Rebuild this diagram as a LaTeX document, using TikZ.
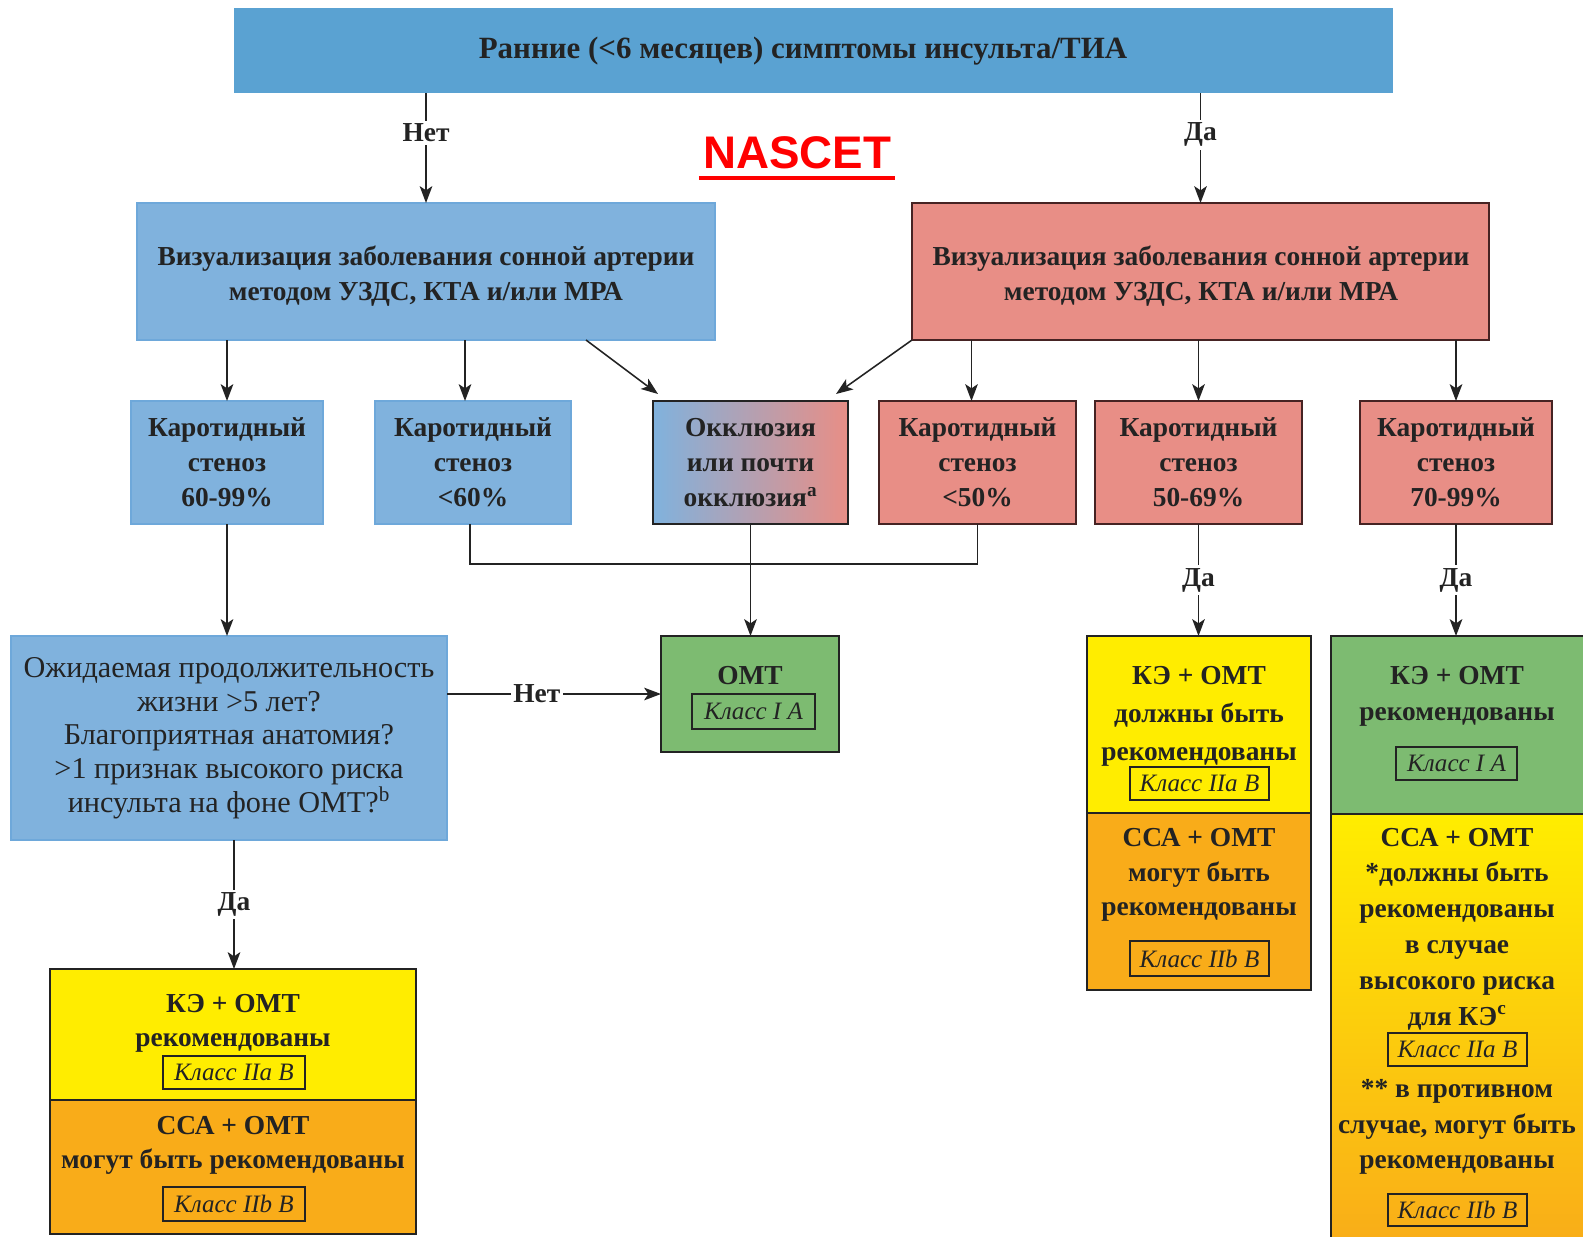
\documentclass[tikz,border=0pt]{standalone}
\usepackage{fontspec}
\setmainfont{Liberation Serif}
\newfontfamily\nsans{Liberation Sans}
\usetikzlibrary{arrows.meta,calc}
\definecolor{topblue}{RGB}{90,162,210}
\definecolor{lblue}{RGB}{128,178,221}
\definecolor{lblueb}{RGB}{110,168,218}
\definecolor{pinkc}{RGB}{232,142,134}
\definecolor{pinkb}{RGB}{70,35,35}
\definecolor{greenc}{RGB}{125,187,113}
\definecolor{yel}{RGB}{255,237,0}
\definecolor{ora}{RGB}{249,172,25}
\definecolor{ink}{RGB}{35,35,35}
\definecolor{nred}{RGB}{255,0,0}
\newcommand\fsz[2]{\fontsize{#1}{#2}\selectfont}
% \rbox{style}{name}{x1}{y1}{x2}{y2}{text}
\newcommand\rbox[7]{%
  \pgfmathsetmacro\rcx{(#3+#5)/2}%
  \pgfmathsetmacro\rcy{(#4+#6)/2}%
  \pgfmathsetmacro\rw{(#5-#3)*0.025}%
  \pgfmathsetmacro\rh{(#6-#4)*0.025}%
  \node[#1,minimum width=\rw cm,minimum height=\rh cm] (#2) at (\rcx,\rcy) {#7};}
\begin{document}
\begin{tikzpicture}[x=0.025cm,y=-0.025cm,
  bx/.style={rectangle,inner sep=0pt,outer sep=0pt,line width=0.9pt,text=ink,align=center},
  lbx/.style={bx,fill=lblue,draw=lblueb},
  pbx/.style={bx,fill=pinkc,draw=pinkb},
  gbx/.style={bx,fill=greenc,draw=ink},
  ybx/.style={bx,fill=yel,draw=ink},
  obx/.style={bx,fill=ora,draw=ink},
  bt/.style={font=\fsz{19.5}{25}\bfseries},
  txt/.style={inner sep=0pt,text=ink,align=center,font=\fsz{19.5}{#1}\bfseries},
  cls/.style={rectangle,draw=ink,line width=0.9pt,inner sep=0pt,text=ink,font=\fsz{17.8}{20}\itshape},
  lbl/.style={fill=white,inner sep=2pt,text=ink,font=\fsz{19.5}{22}\bfseries},
  arr/.style={draw=ink,line width=1.1pt,-{Stealth[length=12pt,width=9pt,inset=3pt]}},
  ln/.style={draw=ink,line width=1.1pt}
]
\clip (0,0) rectangle (1583,1236);
\fill[white] (0,0) rectangle (1583,1236);

% top
\rbox{bx,fill=topblue}{top}{234}{8}{1393}{93}{}
\node[txt=26,font=\fsz{22}{26}\bfseries] (toptxt) at (803,51) {Ранние (<6 месяцев) симптомы инсульта/ТИА};

% NASCET
\node[inner sep=0pt,text=nred,font=\fsz{32.5}{36}\nsans\bfseries] (nascet) at (797,153) {NASCET};
\draw[nred,line width=2.9pt] ($(nascet.base west)+(-4,9)$) -- ($(nascet.base east)+(4,9)$);

% row 2
\rbox{lbx}{vizL}{137}{203}{715}{340}{}
\rbox{pbx}{vizR}{912}{203}{1489}{340}{}
\node[txt=25] (vizLt) at (426,276) {Визуализация заболевания сонной артерии\\методом УЗДС, КТА и/или МРА};
\node[txt=25] (vizRt) at (1201,276) {Визуализация заболевания сонной артерии\\методом УЗДС, КТА и/или МРА};

\draw[arr] (top.south -| vizL.north) -- node[lbl,pos=0.36]{Нет} (vizL.north);
\draw[arr] (top.south -| vizR.north) -- node[lbl,pos=0.38]{Да} (vizR.north);

% row 3
\rbox{lbx,bt}{A}{131}{401}{323}{524}{Каротидный\\стеноз\\60-99\%}
\rbox{lbx,bt}{B}{375}{401}{571}{524}{Каротидный\\стеноз\\<60\%}
\rbox{bx,bt,draw=ink,left color=lblue,right color=pinkc}{C}{653}{401}{848}{524}{Окклюзия\\или почти\\окклюзия\textsuperscript{a}}
\rbox{pbx,bt}{D}{879}{401}{1076}{524}{Каротидный\\стеноз\\<50\%}
\rbox{pbx,bt}{E}{1095}{401}{1302}{524}{Каротидный\\стеноз\\50-69\%}
\rbox{pbx,bt}{F}{1360}{401}{1552}{524}{Каротидный\\стеноз\\70-99\%}

\draw[arr] (vizL.south -| A.north) -- (A.north);
\draw[arr] ($(vizL.south -| B.north)+(-8,0)$) -- ($(B.north)+(-8,0)$);
\draw[arr] ($(vizL.south)+(160,0)$) -- ($(C.north west)+(5,-7)$);
\draw[arr] (vizR.south west) -- ($(C.north east)+(-12,-7)$);
\draw[arr] ($(vizR.south -| D.north)+(-6,0)$) -- ($(D.north)+(-6,0)$);
\draw[arr] (vizR.south -| E.north) -- (E.north);
\draw[arr] (vizR.south -| F.north) -- (F.north);

\draw[ln] ($(B.south)+(-3,0)$) -- ++(0,40) -| (D.south);

% row 4
\rbox{lbx,font=\fsz{21.5}{24}}{Q}{11}{636}{447}{840}{Ожидаемая продолжительность\\жизни >5 лет?\\Благоприятная анатомия?\\>1 признак высокого риска\\инсульта на фоне ОМТ?\textsuperscript{b}}

\rbox{gbx}{omt}{661}{636}{839}{752}{}
\node[txt=24] (omtt) at (750,676) {ОМТ};
\rbox{cls}{omtc}{692}{694}{815}{729}{Класс I A}

\draw[arr] (C.south) -- (C.south |- omt.north);
\draw[arr] (A.south) -- (A.south |- Q.north);
\draw[arr] (Q.east |- omt.west) -- node[lbl,pos=0.42]{Нет} (omt.west);

% E result
\rbox{ybx}{ey}{1087}{636}{1311}{813}{}
\rbox{obx}{eo}{1087}{813}{1311}{990}{}
\node[txt=27] (eyt) at (1199,716) {КЭ + ОМТ\\должны быть\\рекомендованы};
\rbox{cls}{eyc}{1130}{767}{1269}{800}{Класс IIa B}
\node[txt=24.5] (eot) at (1199,875) {ССА + ОМТ\\могут быть\\рекомендованы};
\rbox{cls}{eoc}{1130}{941}{1269}{976}{Класс IIb B}
\draw[arr] (E.south) -- node[lbl]{Да} (E.south |- ey.north);

% F result
\rbox{gbx}{fg}{1331}{636}{1590}{814}{}
\rbox{bx,draw=ink,top color=yel,bottom color=ora}{fo}{1331}{814}{1590}{1250}{}
\node[txt=25.6] (fgt) at (1457,696) {КЭ + ОМТ\\рекомендованы};
\rbox{cls}{fgc}{1396}{747}{1517}{780}{Класс I A}
\node[txt=25.5] (fot1) at (1457,929) {ССА + ОМТ\\*должны быть\\рекомендованы\\в случае\\высокого риска\\для КЭ\textsuperscript{c}};
\rbox{cls}{foc1}{1388}{1033}{1527}{1066}{Класс IIa B}
\node[txt=25] (fot2) at (1457,1127) {** в противном\\случае, могут быть\\рекомендованы};
\rbox{cls}{foc2}{1388}{1194}{1527}{1226}{Класс IIb B}
\draw[arr] (F.south) -- node[lbl]{Да} (F.south |- fg.north);

% bottom-left result
\rbox{ybx}{by}{50}{969}{416}{1100}{}
\rbox{obx}{bo}{50}{1100}{416}{1234}{}
\node[txt=24.2] (byt) at (233,1023) {КЭ + ОМТ\\рекомендованы};
\rbox{cls}{byc}{163}{1056}{305}{1089}{Класс IIa B}
\node[txt=24.2] (bot) at (233,1145) {ССА + ОМТ\\могут быть рекомендованы};
\rbox{cls}{boc}{163}{1187}{305}{1221}{Класс IIb B}
\draw[arr] ($(Q.south)+(5,0)$) -- node[lbl]{Да} ($(Q.south |- by.north)+(5,0)$);
\end{tikzpicture}
\end{document}
